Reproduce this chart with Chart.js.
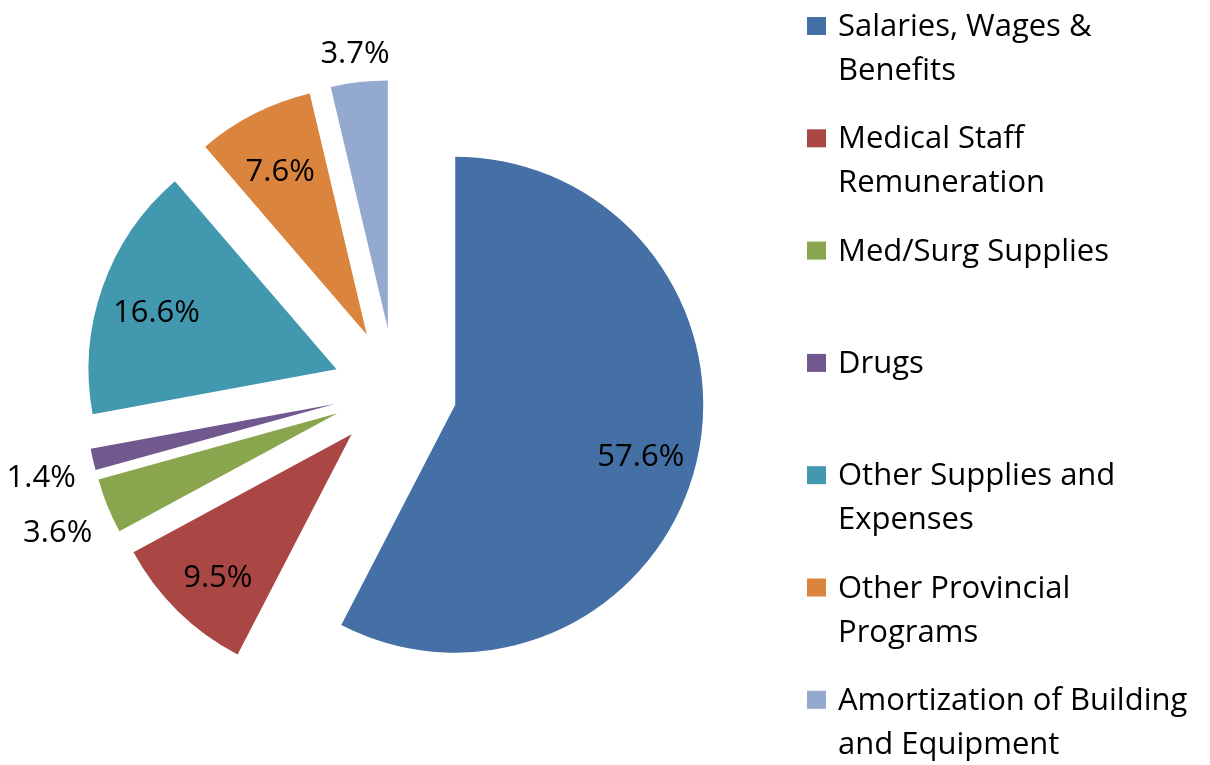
<!DOCTYPE html>
<html>
<head>
<meta charset="utf-8">
<title>Expense distribution</title>
<script src="https://cdn.jsdelivr.net/npm/chart.js@4.4.1/dist/chart.umd.min.js"></script>
<style>
    html, body { margin: 0; padding: 0; background: #fff; }
    canvas { display: block; }
</style>
</head>
<body>
<canvas id="chartGastos" width="1210" height="765"></canvas>
<script>
// ── Data ──
const categories = [
    ['Salaries, Wages &', 'Benefits'],
    ['Medical Staff', 'Remuneration'],
    ['Med/Surg Supplies'],
    ['Drugs'],
    ['Other Supplies and', 'Expenses'],
    ['Other Provincial', 'Programs'],
    ['Amortization of Building', 'and Equipment']
];
const shares = [57.6, 9.5, 3.6, 1.4, 16.6, 7.6, 3.7];
const sliceColors = ['#4470A6', '#AA4643', '#89A54E', '#71588F', '#4198AF', '#DB843D', '#93A9CF'];

// ── Look ──
const FONT = '31px "Open Sans", Lato, sans-serif';
const EXPLODE = 62;      // px each slice is pulled out
const RADIUS = 248;

// draw every arc shifted out along its bisector (uniform explode, like Excel)
const explodePlugin = {
    id: 'explode',
    beforeDatasetDraw(chart, args) {
        const ctx = chart.ctx;
        args.meta.data.forEach(arc => {
            const mid = (arc.startAngle + arc.endAngle) / 2;
            ctx.save();
            ctx.translate(Math.cos(mid) * EXPLODE, Math.sin(mid) * EXPLODE);
            arc.draw(ctx, chart.chartArea);
            ctx.restore();
        });
        return false;
    }
};

// percent labels: inside for big slices, outside end for small ones
const pctLabels = {
    id: 'pctLabels',
    afterDatasetsDraw(chart) {
        const ctx = chart.ctx;
        const meta = chart.getDatasetMeta(0);
        ctx.save();
        ctx.font = FONT;
        ctx.fillStyle = '#000';
        ctx.textAlign = 'center';
        ctx.textBaseline = 'alphabetic';
        const capH = ctx.measureText('0').actualBoundingBoxAscent;
        meta.data.forEach((arc, i) => {
            const v = shares[i];
            const txt = v.toFixed(1) + '%';
            const mid = (arc.startAngle + arc.endAngle) / 2;
            const dx = Math.cos(mid), dy = Math.sin(mid);
            const cx = arc.x + dx * EXPLODE, cy = arc.y + dy * EXPLODE;
            let dist;
            if (v >= 5) {
                dist = arc.outerRadius * 0.77;
            } else {
                const w = ctx.measureText(txt).width;
                dist = arc.outerRadius + 16 + Math.abs(dx) * w / 2 + Math.abs(dy) * 15;
            }
            ctx.fillText(txt, cx + dx * dist, cy + dy * dist + capH / 2 + 5);
        });
        ctx.restore();
    }
};

// legend on the right, multi-line entries
const sideLegend = {
    id: 'sideLegend',
    afterDraw(chart) {
        const ctx = chart.ctx;
        const colors = chart.data.datasets[0].backgroundColor;
        ctx.save();
        ctx.font = FONT;
        ctx.textAlign = 'left';
        ctx.textBaseline = 'alphabetic';
        chart.data.labels.forEach((lines, i) => {
            const base = 36 + i * 112.3;
            ctx.fillStyle = colors[i];
            ctx.fillRect(807, base - 19, 19, 18);
            ctx.fillStyle = '#000';
            lines.forEach((ln, j) => ctx.fillText(ln, 838, base + j * 44));
        });
        ctx.restore();
    }
};

new Chart(document.getElementById('chartGastos'), {
    type: 'pie',
    data: {
        labels: categories,
        datasets: [{
            data: shares,
            backgroundColor: sliceColors,
            borderWidth: 0
        }]
    },
    options: {
        responsive: false,
        animation: false,
        events: [],
        radius: RADIUS,
        layout: { padding: { top: 15, right: 420, left: 0, bottom: 0 } },
        plugins: {
            legend: { display: false },
            tooltip: { enabled: false }
        }
    },
    plugins: [explodePlugin, pctLabels, sideLegend]
});
</script>
</body>
</html>
